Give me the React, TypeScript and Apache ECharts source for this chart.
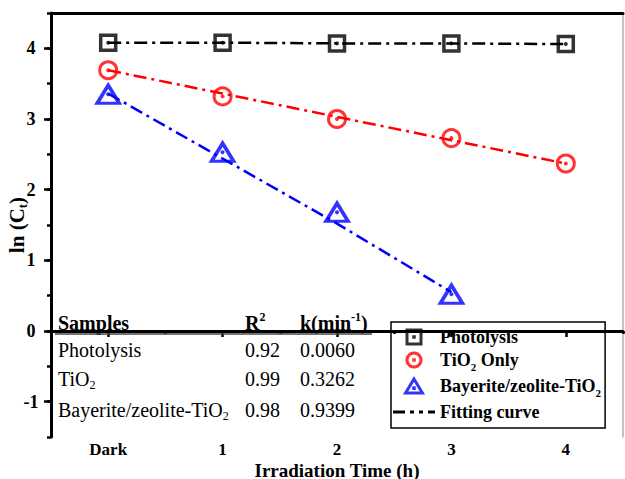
import React, { useEffect, useRef } from "react";
import * as echarts from "echarts";

const categories = ["Dark", "1", "2", "3", "4"];
const photolysis = [4.08, 4.08, 4.07, 4.07, 4.06];
const tio2 = [3.69, 3.32, 3.0, 2.73, 2.37];
const bayerite = [3.35, 2.53, 1.68, 0.52];
const photolysisFit = [4.08, 4.08, 4.07, 4.07, 4.06];
const tio2Fit = [3.69, 3.36, 3.03, 2.7, 2.37];
const bayeriteFit = [3.36, 2.44, 1.52, 0.55];
const yTickLabels = ["-1.5", "-1", "-0.5", "0", "0.5", "1", "1.5", "2", "2.5", "3", "3.5", "4", "4.5"];
const legendNames = ["Photolysis", "TiO2 Only", "Bayerite/zeolite-TiO2", "Fitting curve"];
const tableHeaders = ["Samples", "R2", "k(min-1)"];
const tableSamples = ["Photolysis", "TiO2", "Bayerite/zeolite-TiO2"];
const tableR2 = ["0.92", "0.99", "0.98"];
const tableK = ["0.0060", "0.3262", "0.9399"];

const FONT = "Liberation Serif";
const BLACK = "#000000";
const RED = "#ff0000";
const BLUE = "#0000ff";
const DASH = [13, 5, 3, 5];

const ICON_SQUARE = "path://M0,0H10V10H0Z M4.8,4.8h0.4v0.4h-0.4z";
const ICON_CIRCLE = "path://M5,0A5,5,0,1,1,4.99,0Z M4.8,4.8h0.4v0.4h-0.4z";
const ICON_TRIANGLE = "path://M6,0L12,10L0,10Z M5.8,6.3h0.4v0.4h-0.4z";
const ICON_FIT = "path://M0,0h12v3H0z M17,0h4v3h-4z M26,0h4v3h-4z M35,0h7v3h-7z";

// turn "TiO2" into rich text with subscript
function richSub(text: string, base: string, sub: string): string {
  const parts = text.split("O2");
  let out = "";
  parts.forEach((p, i) => {
    if (p) out += `{${base}|${p}}`;
    if (i < parts.length - 1) out += `{${base}|O}{${sub}|2}`;
  });
  return out;
}

function makeRich(size: number, bold: boolean) {
  const w = bold ? "bold" : "normal";
  return {
    n: { fontFamily: FONT, fontSize: size, fontWeight: w, color: BLACK, lineHeight: 24, verticalAlign: "middle" },
    s: { fontFamily: FONT, fontSize: Math.round(size * 0.62), fontWeight: w, color: BLACK, lineHeight: 13, verticalAlign: "bottom" },
    p: { fontFamily: FONT, fontSize: Math.round(size * 0.62), fontWeight: w, color: BLACK, lineHeight: 13, verticalAlign: "top" },
  };
}

export default function App() {
  const ref = useRef<HTMLDivElement>(null);
  useEffect(() => {
    if (!ref.current) return;
    const chart = echarts.init(ref.current, undefined, { renderer: "svg" });

    const tableRich = makeRich(20, false);
    const headRich = makeRich(20, true);
    const colX = [58, 245, 300];
    const rowY = [350, 379, 410];
    const graphics: any[] = [];
    const headerTexts = [
      "{n|" + tableHeaders[0] + "}",
      "{n|R}{p|2}",
      "{n|k(min}{p|-1}{n|)}",
    ];
    headerTexts.forEach((t, i) => {
      graphics.push({
        type: "text",
        x: colX[i],
        y: 323,
        style: { text: t, rich: headRich, verticalAlign: "middle", align: "left" },
        z: 10,
      });
    });
    graphics.push({
      type: "line",
      shape: { x1: 55, y1: 334, x2: 372, y2: 334 },
      style: { stroke: "#444", lineWidth: 1.5 },
      z: 10,
    });
    tableSamples.forEach((s, r) => {
      const cells = [richSub(s, "n", "s"), "{n|" + tableR2[r] + "}", "{n|" + tableK[r] + "}"];
      cells.forEach((t, i) => {
        graphics.push({
          type: "text",
          x: colX[i],
          y: rowY[r],
          style: { text: t, rich: tableRich, verticalAlign: "middle", align: "left" },
          z: 10,
        });
      });
    });

    const dot = (data: (number | null)[], color: string) => ({
      type: "scatter",
      name: "dot-" + color,
      data,
      symbol: "circle",
      symbolSize: 4,
      itemStyle: { color },
      silent: true,
      z: 6,
    });

    const option: any = {
      animation: false,
      backgroundColor: "#ffffff",
      grid: { left: 51, right: 2, top: 13, bottom: 42, containLabel: false, outerBoundsMode: "none" },
      xAxis: [
        {
          type: "category",
          data: categories,
          position: "bottom",
          boundaryGap: true,
          axisLine: { show: true, lineStyle: { color: BLACK, width: 3 } },
          axisTick: { show: true, alignWithLabel: true, length: 6, lineStyle: { color: BLACK, width: 2.5 } },
          axisLabel: { fontFamily: FONT, fontWeight: "bold", fontSize: 17, lineHeight: 16, color: BLACK, margin: 4 },
          splitLine: { show: false },
          name: "Irradiation Time (h)",
          nameLocation: "middle",
          nameGap: 24,
          nameMoveOverlap: false,
          nameTextStyle: { fontFamily: FONT, fontWeight: "bold", fontSize: 19, lineHeight: 18, color: BLACK },
        },
        {
          type: "category",
          data: categories,
          position: "bottom",
          boundaryGap: true,
          axisLine: { show: false },
          axisTick: { show: true, alignWithLabel: false, length: 3, lineStyle: { color: BLACK, width: 2.5 } },
          axisLabel: { show: false },
          splitLine: { show: false },
        },
        {
          type: "category",
          data: categories,
          position: "top",
          axisLine: { show: true, lineStyle: { color: BLACK, width: 3 } },
          axisTick: { show: false },
          axisLabel: { show: false },
          splitLine: { show: false },
        },
      ],
      yAxis: [
        {
          type: "value",
          min: -1.5,
          max: 4.5,
          interval: 0.5,
          position: "left",
          axisLine: { show: true, lineStyle: { color: BLACK, width: 3 } },
          axisTick: { show: true, length: 4, lineStyle: { color: BLACK, width: 2.5 } },
          axisLabel: { show: false },
          splitLine: { show: false },
          name: "{n|ln (C}{s|t}{n|)}",
          nameLocation: "middle",
          nameGap: 22,
          nameRotate: 90,
          nameTextStyle: { rich: makeRich(21, true) },
        },
        {
          type: "category",
          data: yTickLabels,
          boundaryGap: false,
          position: "left",
          axisLine: { show: false },
          axisTick: { show: true, length: 7, interval: (i: number) => i % 2 === 1, lineStyle: { color: BLACK, width: 2.5 } },
          axisLabel: {
            interval: (i: number) => i % 2 === 1,
            fontFamily: FONT,
            fontWeight: "bold",
            fontSize: 18,
            color: BLACK,
            align: "center",
            margin: 20,
          },
          splitLine: { show: false },
        },
        {
          type: "value",
          min: -1.5,
          max: 4.5,
          position: "right",
          axisLine: { show: true, lineStyle: { color: "#b0b0b0", width: 1.5 } },
          axisTick: { show: false },
          axisLabel: { show: false },
          splitLine: { show: false },
        },
      ],
      legend: {
        data: [
          { name: legendNames[0], icon: ICON_SQUARE },
          { name: legendNames[1], icon: ICON_CIRCLE },
          { name: legendNames[2], icon: ICON_TRIANGLE },
          { name: legendNames[3], icon: ICON_FIT },
        ],
        orient: "vertical",
        left: 391,
        top: 322,
        padding: [6, 4, 7, 2],
        itemGap: 5,
        itemWidth: 42,
        itemHeight: 14,
        symbolKeepAspect: true,
        borderColor: BLACK,
        borderWidth: 1.5,
        borderRadius: 0,
        itemStyle: { borderWidth: 3 },
        textStyle: { fontFamily: FONT, fontWeight: "bold", fontSize: 18, color: BLACK, rich: makeRich(18, true) },
        formatter: (name: string) => richSub(name, "n", "s"),
      },
      graphic: graphics,
      series: [
        {
          type: "line",
          name: "Fitting curve",
          data: photolysisFit,
          symbol: "none",
          lineStyle: { color: BLACK, width: 2.5, type: DASH },
          itemStyle: { color: BLACK, borderWidth: 0 },
          z: 2,
        },
        {
          type: "line",
          name: "TiO2 fit",
          data: tio2Fit,
          symbol: "none",
          lineStyle: { color: RED, width: 2.5, type: DASH },
          itemStyle: { color: RED },
          z: 2,
        },
        {
          type: "line",
          name: "Bayerite fit",
          data: bayeriteFit,
          symbol: "none",
          lineStyle: { color: BLUE, width: 2.5, type: DASH },
          itemStyle: { color: BLUE },
          z: 2,
        },
        {
          type: "scatter",
          name: "Photolysis",
          data: photolysis,
          symbol: "rect",
          symbolSize: 15,
          itemStyle: { color: "transparent", borderColor: BLACK, borderWidth: 3.5 },
          z: 5,
        },
        {
          type: "scatter",
          name: "TiO2 Only",
          data: tio2,
          symbol: "circle",
          symbolSize: 17,
          itemStyle: { color: "transparent", borderColor: RED, borderWidth: 3 },
          z: 5,
        },
        {
          type: "scatter",
          name: "Bayerite/zeolite-TiO2",
          data: bayerite,
          symbol: "triangle",
          symbolSize: [22, 18],
          itemStyle: { color: "transparent", borderColor: BLUE, borderWidth: 3.5 },
          z: 5,
        },
        dot(photolysis, BLACK),
        dot(tio2, RED),
        dot(bayerite, BLUE),
      ],
    };
    chart.setOption(option);
    return () => chart.dispose();
  }, []);
  return (
    <div
      ref={ref}
      style={{ position: "absolute", left: 0, top: 0, width: 625, height: 479, background: "#fff" }}
    />
  );
}
